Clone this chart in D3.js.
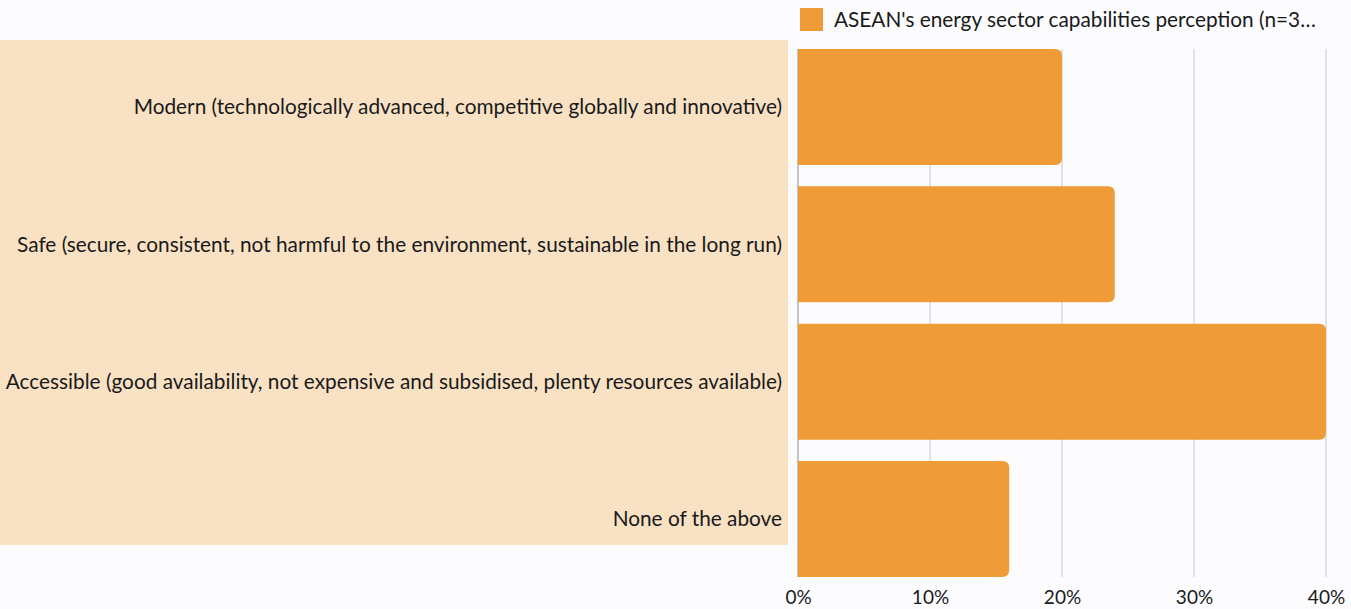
<!DOCTYPE html>
<html>
<head>
<meta charset="utf-8">
<script src="https://cdn.jsdelivr.net/npm/d3@7"></script>
<style>
  html, body { margin: 0; padding: 0; background: #fcfcfe; }
  svg { display: block; font-family: Lato, "Open Sans", sans-serif; }
</style>
</head>
<body>
<svg id="chart" width="1351" height="609"></svg>
<script>
// Survey answers and share of respondents (%)
const categories = [
  "Modern (technologically advanced, competitive globally and innovative)",
  "Safe (secure, consistent, not harmful to the environment, sustainable in the long run)",
  "Accessible (good availability, not expensive and subsidised, plenty resources available)",
  "None of the above"
];
const values = [20, 24, 40, 16];
const tickValues = [0, 10, 20, 30, 40];
const seriesName = "ASEAN's energy sector capabilities perception (n=3…";

const W = 1351, H = 609;
const margin = { top: 49, right: 25, bottom: 32, left: 798 };
const svg = d3.select("#chart");

svg.append("rect").attr("width", W).attr("height", H).attr("fill", "#fcfcfe");

const x = d3.scaleLinear().domain([0, 40]).range([margin.left, W - margin.right]);
const y = d3.scaleBand().domain(categories)
  .range([margin.top, H - margin.bottom])
  .paddingInner(0.155).paddingOuter(0);

// highlighted label panel
svg.append("rect")
  .attr("x", 0).attr("y", 40)
  .attr("width", 788).attr("height", 505)
  .attr("fill", "#f9e1c4");

// vertical gridlines
svg.append("g")
  .selectAll("line")
  .data(tickValues.filter(d => d > 0))
  .join("line")
  .attr("x1", d => x(d)).attr("x2", d => x(d))
  .attr("y1", y.range()[0]).attr("y2", y.range()[1])
  .attr("stroke", "#c8c8cc").attr("stroke-width", 1);

// baseline
svg.append("line")
  .attr("x1", x(0)).attr("x2", x(0))
  .attr("y1", y.range()[0]).attr("y2", y.range()[1])
  .attr("stroke", "#8a8a8e").attr("stroke-width", 1);

// bars with rounded right ends
const r = 7;
function barPath(d, i) {
  const x0 = x(0), x1 = x(d), y0 = y(categories[i]), h = y.bandwidth();
  const rr = Math.min(r, (x1 - x0) / 2);
  return `M${x0},${y0}H${x1 - rr}Q${x1},${y0} ${x1},${y0 + rr}` +
         `V${y0 + h - rr}Q${x1},${y0 + h} ${x1 - rr},${y0 + h}H${x0}Z`;
}
svg.append("g")
  .selectAll("path")
  .data(values)
  .join("path")
  .attr("d", barPath)
  .attr("fill", "#ef9b38");

// category labels
svg.append("g")
  .selectAll("text")
  .data(categories)
  .join("text")
  .attr("x", 782)
  .attr("y", d => y(d) + y.bandwidth() / 2)
  .attr("dy", "0.35em")
  .attr("text-anchor", "end")
  .attr("font-size", 20.8)
  .attr("fill", "#1a1a1a")
  .text(d => d);

// x axis tick labels
const xAxis = d3.axisBottom(x).tickValues(tickValues).tickFormat(d => d + "%").tickSize(0).tickPadding(0);
const ax = svg.append("g").attr("transform", `translate(0,${y.range()[1]})`).call(xAxis);
ax.select(".domain").remove();
ax.selectAll("text")
  .attr("font-family", "Lato, sans-serif")
  .attr("font-size", 19)
  .attr("fill", "#1a1a1a")
  .attr("y", 27)
  .attr("dy", 0);

// legend
const lg = svg.append("g").attr("transform", "translate(800,8)");
lg.append("rect").attr("width", 23).attr("height", 23).attr("fill", "#ef9b38");
lg.append("text").attr("x", 34).attr("y", 19)
  .attr("font-size", 20.8).attr("fill", "#1a1a1a")
  .text(seriesName);
</script>
</body>
</html>
